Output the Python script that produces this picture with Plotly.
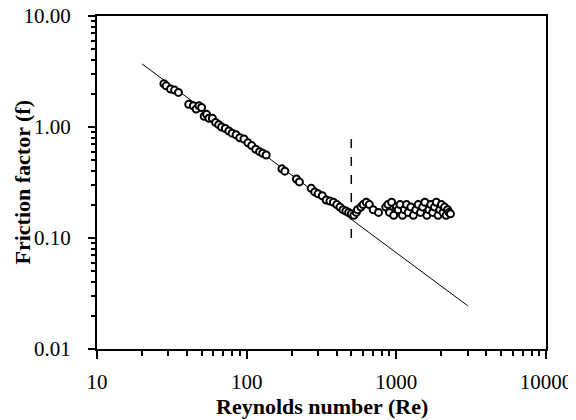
import plotly.graph_objects as go

# Data
re_data = [28, 29, 31, 33, 35, 41, 44, 46, 48, 50, 52, 54, 56, 59, 62, 65, 68, 72, 76, 80,
           85, 90, 96, 102, 108, 115, 122, 128, 135, 172, 180, 215, 225, 270, 285, 300,
           320, 340, 360, 380, 400, 420, 440, 460, 480, 500, 520, 540,
           550, 580, 600, 630, 660, 700, 760,
           850, 880, 900, 930, 960, 1000, 1030, 1060, 1100, 1130, 1170, 1200, 1250, 1300,
           1350, 1400, 1450, 1500, 1550, 1600, 1650, 1700, 1750, 1800, 1850, 1900, 1950,
           2000, 2050, 2100, 2150, 2200, 2250, 2300]
f_data = [2.45, 2.35, 2.2, 2.15, 2.05, 1.6, 1.55, 1.45, 1.55, 1.5, 1.25, 1.3, 1.2, 1.2, 1.1,
          1.05, 1.0, 0.97, 0.92, 0.88, 0.85, 0.8, 0.78, 0.72, 0.68, 0.63, 0.6, 0.58, 0.56,
          0.42, 0.40, 0.34, 0.32, 0.28, 0.26, 0.25, 0.24, 0.22, 0.215, 0.21, 0.2, 0.19,
          0.18, 0.175, 0.17, 0.165, 0.16, 0.17,
          0.18, 0.19, 0.2, 0.21, 0.2, 0.18, 0.17,
          0.19, 0.2, 0.17, 0.21, 0.16, 0.19, 0.18, 0.2, 0.16, 0.18, 0.2, 0.17, 0.19, 0.16,
          0.18, 0.2, 0.17, 0.19, 0.21, 0.16, 0.18, 0.2, 0.17, 0.19, 0.21, 0.16, 0.18,
          0.2, 0.17, 0.19, 0.16, 0.18, 0.17, 0.165]

# Laminar correlation line endpoints
line_re = [20, 3000]
line_f = [3.7, 0.0245]

# Transition marker (dashed vertical line)
trans_re = [500, 500]
trans_f = [0.1, 0.8]

x_tickvals = [10, 100, 1000, 10000]
x_ticktext = ["10", "100", "1000", "10000"]
y_tickvals = [0.01, 0.1, 1, 10]
y_ticktext = ["0.01", "0.10", "1.00", "10.00"]

x_title = "<b>Reynolds number (Re)</b>"
y_title = "<b>Friction factor (f)</b>"

fig = go.Figure()
fig.add_trace(go.Scatter(x=line_re, y=line_f, mode="lines",
                         line=dict(color="black", width=1), showlegend=False))
fig.add_trace(go.Scatter(x=trans_re, y=trans_f, mode="lines",
                         line=dict(color="black", width=1.5, dash="dash"), showlegend=False))
fig.add_trace(go.Scatter(x=re_data, y=f_data, mode="markers",
                         marker=dict(symbol="circle", size=7, color="white",
                                     line=dict(color="black", width=2)),
                         showlegend=False))

tick_font = dict(family="Liberation Serif", size=21, color="black")
title_font = dict(family="Liberation Serif", size=22, color="black")

fig.update_layout(
    width=568, height=412,
    margin=dict(l=89, r=30, t=8, b=71),
    paper_bgcolor="white", plot_bgcolor="white",
    font=tick_font,
    xaxis=dict(type="log", range=[1, 4], tickvals=x_tickvals, ticktext=x_ticktext,
               automargin=False, tickfont=tick_font, ticklabeloverflow="allow",
               showgrid=False, zeroline=False, showline=True, linecolor="black",
               linewidth=2, mirror=True, ticks="outside", ticklen=8, tickwidth=1.5,
               tickcolor="black", ticklabelstandoff=5,
               minor=dict(ticks="outside", ticklen=5, tickwidth=1.5, tickcolor="black",
                          dtick="D1", showgrid=False)),
    yaxis=dict(type="log", range=[-2, 1], tickvals=y_tickvals, ticktext=y_ticktext,
               automargin=False, tickfont=tick_font, ticklabeloverflow="allow",
               showgrid=False, zeroline=False, showline=True, linecolor="black",
               linewidth=2, mirror=True, ticks="outside", ticklen=7, tickwidth=1.5,
               tickcolor="black", ticklabelstandoff=13,
               minor=dict(ticks="outside", ticklen=4, tickwidth=1.5, tickcolor="black",
                          dtick="D1", showgrid=False)),
    annotations=[
        dict(text=x_title, xref="paper", yref="paper", x=0.5, y=0,
             xanchor="center", yanchor="middle", yshift=-57, showarrow=False,
             font=title_font),
        dict(text=y_title, xref="paper", yref="paper", x=0, y=0.5,
             xanchor="center", yanchor="middle", xshift=-75, textangle=-90,
             showarrow=False, font=title_font),
    ],
)

fig.write_html("out.html")
